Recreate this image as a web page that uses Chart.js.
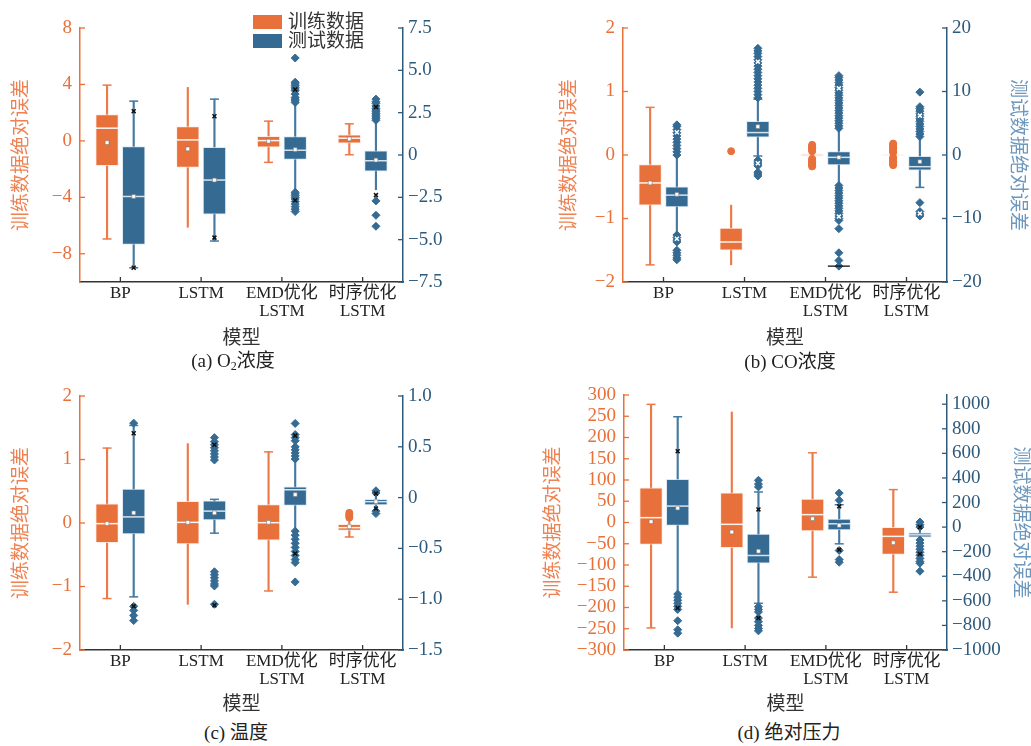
<!DOCTYPE html>
<html>
<head>
<meta charset="utf-8">
<script src="https://cdn.jsdelivr.net/npm/chart.js@4"></script>
<style>
  html, body { margin: 0; padding: 0; background: #fff; }
  body { width: 1031px; height: 746px; position: relative; overflow: hidden;
         font-family: 'Liberation Serif', 'Noto Sans CJK SC', serif; }
  canvas { position: absolute; }
  .cap { position: absolute; font-size: 19px; color: #222; white-space: nowrap;
         transform: translate(-50%, -50%); line-height: 1.2; }
  .cap sub { font-size: 12px; vertical-align: -3px; }
  .sw { position: absolute; width: 29px; height: 14px; }
  .lt { position: absolute; font-size: 19px; color: #333; line-height: 22px; white-space: nowrap; }
</style>
</head>
<body>
<canvas id="ca" style="left:0px;top:0px" width="470" height="350"></canvas>
<canvas id="cb" style="left:520px;top:0px" width="511" height="350"></canvas>
<canvas id="cc" style="left:0px;top:370px" width="470" height="346"></canvas>
<canvas id="cd" style="left:520px;top:370px" width="511" height="346"></canvas>

<div class="sw" style="left:253px;top:15px;background:#E8703A"></div>
<div class="lt" style="left:288px;top:11px">训练数据</div>
<div class="sw" style="left:253px;top:34px;background:#356A92"></div>
<div class="lt" style="left:288px;top:30px">测试数据</div>

<div class="cap" style="left:233px;top:362px">(a) O<sub>2</sub>浓度</div>
<div class="cap" style="left:790px;top:362px">(b) CO浓度</div>
<div class="cap" style="left:236px;top:733px">(c) 温度</div>
<div class="cap" style="left:789px;top:733px">(d) 绝对压力</div>

<script>
// ---------------- data ----------------
const categories = ['BP', 'LSTM', ['EMD优化', 'LSTM'], ['时序优化', 'LSTM']];
const xTitle = '模型';
const trainTitle = '训练数据绝对误差';
const testTitle = '测试数据绝对误差';

// each row: [whisker low, Q1, median, Q3, whisker high, mean]
// (a) O2
const o2Train = [
  [-6.95, -1.76, 0.90, 1.86, 3.95, -0.12],
  [-6.12, -1.88, 0.07, 1.02, 3.79, -0.57],
  [-1.52, -0.45, 0.02, 0.33, 1.40, -0.02],
  [-0.98, -0.17, 0.19, 0.43, 1.21, 0.14]
];
const o2TrainCaps = [[1, 1], [0, 0], [1, 1], [1, 1]];
const o2Test = [
  [-6.66, -5.28, -2.45, 0.49, 3.18, -2.45],
  [-5.08, -3.50, -1.48, 0.45, 3.30, -1.48],
  [-2.11, -0.26, 0.28, 1.09, 3.05, 0.32],
  [-2.05, -0.95, -0.34, 0.24, 1.98, -0.30]
];
const o2TestCaps = [[1, 1], [1, 1], [0, 0], [0, 0]];
const o2TestOutliers = [
  [],
  [],
  [4.3, 4.2, 4.1, 4.0, 3.9, 3.8, 3.6, 3.4, 3.3, 3.2, 3.1, 5.73, -2.2, -2.3, -2.4, -2.5, -2.6, -2.75, -2.9, -3.05, -3.2, -3.34],
  [2.05, 2.15, 2.25, 2.35, 2.45, 2.55, 2.65, 2.75, 2.9, 3.05, 3.15, 3.3, -2.71, -3.56, -4.21]
];
const o2TestMarks = [[2.59, -6.66], [2.29, -4.88], [3.87, -2.67], [2.83, -2.37]];
const o2LeftTicks = { min: -10, max: 8, step: 4 };
const o2RightTicks = { min: -7.5, max: 7.5, step: 2.5 };

// (b) CO
const coTrain = [
  [-1.73, -0.79, -0.44, -0.15, 0.75, -0.44],
  [-1.73, -1.50, -1.37, -1.15, -0.79, null],
  [-0.04, -0.02, 0.00, 0.02, 0.04, null],
  [-0.01, -0.005, 0.00, 0.005, 0.01, null]
];
const coTrainCaps = [[1, 1], [0, 0], [0, 0], [0, 0]];
const coTrainOutliers = [
  [],
  [0.06],
  [0.06, 0.08, 0.10, 0.12, 0.14, 0.16, -0.06, -0.08, -0.10, -0.12, -0.14, -0.16, -0.18],
  [0.04, 0.06, 0.08, 0.10, 0.12, 0.14, 0.16, 0.18, -0.04, -0.06, -0.08, -0.10, -0.12, -0.14, -0.16]
];
const coTest = [
  [-12.4, -8.16, -6.32, -5.0, -0.3, -6.2],
  [-0.16, 2.79, 3.53, 5.32, 8.79, 4.47],
  [-4.47, -1.58, -0.37, 0.53, 3.95, -0.37],
  [-5.1, -2.37, -1.84, -0.2, 2.63, -1.05]
];
const coTestCaps = [[0, 0], [1, 1], [0, 0], [1, 0]];
const coTestOutliers = [
  [0.0, 0.5, 1.0, 1.5, 2.0, 2.5, 3.0, 3.5, 4.0, 4.5, 4.75, -12.6, -13.0, -13.4, -13.7, -15.0, -15.4, -15.8, -16.2, -16.5],
  [9.0, 9.5, 10, 10.5, 11, 11.5, 12, 12.5, 13, 13.5, 14, 14.5, 15, 15.5, 16, 16.4, 16.8, -0.8, -1.1, -1.4, -1.7, -2.7, -3.0, -3.3],
  [4.2, 4.6, 5.0, 5.4, 5.8, 6.2, 6.6, 7.0, 7.4, 7.8, 8.2, 8.6, 9.0, 9.4, 9.8, 10.2, 10.6, 11.0, 11.4, 11.8, 12.2, 12.5,
   -4.8, -5.2, -5.6, -6.0, -6.4, -6.8, -7.2, -7.6, -8.0, -8.4, -8.8, -9.2, -9.6, -10.0, -10.3, -11.6, -15.4, -16.6, -17.5],
  [2.9, 3.3, 3.7, 4.1, 4.5, 4.9, 5.3, 5.7, 6.1, 6.5, 6.9, 7.3, 7.6, 9.9, -7.5, -8.9, -9.3, -9.6]
];
const coTestMarks = [[3.58, -13.2], [14.7, -1.3], [10.5, -9.7], [6.2, -9.2]];
const coTestFloor = [null, null, -17.5, null];
const coLeftTicks = { min: -2, max: 2, step: 1 };
const coRightTicks = { min: -20, max: 20, step: 10 };

// (c) temperature
const tempTrain = [
  [-1.19, -0.31, -0.01, 0.30, 1.18, -0.01],
  [-1.28, -0.33, 0.01, 0.34, 1.25, 0.01],
  [-1.07, -0.27, 0.005, 0.29, 1.12, 0.01],
  [-0.22, -0.115, -0.073, -0.02, 0.058, -0.058]
];
const tempTrainCaps = [[1, 1], [0, 0], [1, 1], [1, 0]];
const tempTrainOutliers = [[], [], [], [0.084, 0.11, 0.13, 0.16]];
const tempTest = [
  [-0.977, -0.357, -0.19, 0.083, 0.71, -0.15],
  [-0.35, -0.22, -0.133, -0.033, -0.017, -0.15],
  [-0.30, -0.077, 0.077, 0.107, 0.367, 0.03],
  [-0.117, -0.073, -0.04, -0.017, 0.033, -0.04]
];
const tempTestCaps = [[1, 1], [1, 1], [0, 0], [0, 0]];
const tempTestOutliers = [
  [0.733, -1.07, -1.11, -1.16, -1.21],
  [0.37, 0.40, 0.43, 0.46, 0.49, 0.52, 0.55, 0.59, -0.73, -0.76, -0.79, -0.82, -0.85, -0.87, -1.05],
  [0.73, 0.62, 0.59, 0.56, 0.50, 0.47, 0.44, 0.41, 0.38, -0.33, -0.37, -0.41, -0.45, -0.49, -0.53, -0.57, -0.61, -0.64, -0.83],
  [0.045, 0.067, -0.133, -0.157]
];
const tempTestMarks = [[0.633, -1.07], [0.52, -1.06], [0.61, -0.55], [0.04, -0.107]];
const tempLeftTicks = { min: -2, max: 2, step: 1 };
const tempRightTicks = { min: -1.5, max: 1.0, step: 0.5 };

// (d) absolute pressure
const pressTrain = [
  [-248, -51.5, 11.4, 81.4, 278, 2],
  [-248, -59.4, -4.3, 69.6, 260, -22.4],
  [-128.6, -20, 18.5, 55.4, 164, 9],
  [-164, -75, -32.6, -11.4, 77.4, -47.6]
];
const pressTrainCaps = [[1, 1], [0, 0], [1, 1], [1, 1]];
const pressTest = [
  [-531, 13.6, 171, 389, 898, 155],
  [-620, -294, -231, -57, 286, -196],
  [-136, -22, 27, 65, 182, 14],
  [-100, -82, -63, -46, -30, null]
];
const pressTestCaps = [[0, 1], [1, 1], [1, 1], [0, 0]];
const pressTestOutliers = [
  [-545, -570, -595, -620, -645, -670, -762, -835, -863],
  [327, 350, 381, -648, -670, -690, -740, -770, -800, -825, -844],
  [218, 277, -190, -264, -286],
  [0, 20, 41, -105, -130, -155, -180, -205, -230, -255, -280, -294, -359]
];
const pressTestMarks = [[618, -658], [144, -740], [169, -185], [0, -218]];
const pressLeftTicks = { min: -300, max: 300, step: 50 };
const pressRightTicks = { min: -1000, max: 1075, step: 200 };

// ---------------- styling ----------------
const FONT = "'Liberation Serif', 'Noto Sans CJK SC', serif";
const ORANGE = '#E8703A';
const BLUE = '#356A92';
const AXIS_BLUE = '#2E5A7C';
const SLOT = 0.165;      // half distance between the paired boxes, in category units
const BOX_W = 22.7;      // box width, px
const WHISK_W = 1.5;     // whisker width, px

const trainStyle = {
  box: ORANGE, edge: 'rgba(255,232,220,0.75)', whisker: '#EC7A48',
  median: 'rgba(255,255,255,0.92)', out: ORANGE, outStyle: 'circle', outR: 3.5
};
const testStyle = {
  box: BLUE, edge: 'rgba(210,226,240,0.75)', whisker: '#4679A2',
  median: 'rgba(222,234,244,0.95)', out: BLUE, outStyle: 'rectRot', outR: 4
};

const minus = s => s.replace('-', '\u2212');
const fmtInt = v => minus(String(v));
const fmt1 = v => (v === 0 ? '0' : minus(v.toFixed(1)));

function series(stats, caps, outliers, marks, side, axis, sty, markColor) {
  const at = i => i + side * SLOT;
  const capPts = [];
  stats.forEach((s, i) => {
    if (caps[i][0]) capPts.push({ x: at(i), y: s[0] });
    if (caps[i][1]) capPts.push({ x: at(i), y: s[4] });
  });
  const outPts = [];
  (outliers || []).forEach((vals, i) => vals.forEach(v => outPts.push({ x: at(i), y: v })));
  const markPts = [];
  (marks || []).forEach((vals, i) => vals.forEach(v => markPts.push({ x: at(i), y: v })));
  const meanPts = stats.map((s, i) => (s[5] === null ? null : { x: at(i), y: s[5] })).filter(Boolean);
  const medPts = stats.map((s, i) => ({ x: at(i), y: s[2] }));
  const common = { xAxisID: 'xp', yAxisID: axis };
  return [
    { ...common, type: 'bar', grouped: false, barThickness: WHISK_W,
      data: stats.map((s, i) => ({ x: at(i), y: [s[0], s[4]] })),
      backgroundColor: sty.whisker, borderWidth: 0, order: 6 },
    { ...common, type: 'bar', grouped: false, barThickness: BOX_W,
      data: stats.map((s, i) => ({ x: at(i), y: [s[1], s[3]] })),
      backgroundColor: sty.box, borderColor: sty.edge, borderWidth: 1, borderSkipped: false, order: 4 },
    { ...common, type: 'scatter', data: capPts,
      pointStyle: 'line', pointRadius: 4.5, pointBorderColor: sty.whisker, pointBorderWidth: 1.5, order: 5 },
    { ...common, type: 'scatter', data: medPts,
      pointStyle: 'line', pointRadius: BOX_W / 2, pointBorderColor: sty.median, pointBorderWidth: 1.5, order: 3 },
    { ...common, type: 'scatter', data: outPts,
      pointStyle: sty.outStyle, pointRadius: sty.outR, pointBackgroundColor: sty.out, pointBorderColor: sty.out,
      pointBorderWidth: 1, order: 2 },
    { ...common, type: 'scatter', data: meanPts,
      pointStyle: 'rect', pointRadius: 2.7, pointBackgroundColor: '#ffffff', pointBorderColor: '#7a7a7a',
      pointBorderWidth: 0.6, order: 1 },
    { ...common, type: 'scatter', data: markPts,
      pointStyle: 'crossRot', pointRadius: 2.8, pointBorderColor: markColor, pointBorderWidth: 1.5, order: 0 }
  ];
}

const inTicks = {
  id: 'inTicks',
  afterDraw(chart) {
    const ctx = chart.ctx;
    ['x', 'y', 'y1'].forEach(id => {
      const s = chart.scales[id];
      if (!s) return;
      ctx.save();
      ctx.strokeStyle = s.options.border.color;
      ctx.lineWidth = 1.3;
      s.ticks.forEach((t, i) => {
        const p = s.getPixelForTick(i);
        ctx.beginPath();
        if (id === 'x') { ctx.moveTo(p, s.top); ctx.lineTo(p, s.top - 5); }
        else if (s.position === 'left') { ctx.moveTo(s.right, p); ctx.lineTo(s.right + 5, p); }
        else { ctx.moveTo(s.left, p); ctx.lineTo(s.left - 5, p); }
        ctx.stroke();
      });
      ctx.restore();
    });
  }
};

function makePanel(p) {
  const datasets = [
    ...series(p.train, p.trainCaps, p.trainOut, null, -1, 'y', trainStyle, '#fff'),
    ...series(p.test, p.testCaps, p.testOut, p.testMarks, 1, 'y1', testStyle, p.markColor)
  ];
  if (p.floor) {
    datasets.push({ type: 'scatter', xAxisID: 'xp', yAxisID: 'y1',
      data: p.floor.map((v, i) => (v === null ? null : { x: i + SLOT, y: v })).filter(Boolean),
      pointStyle: 'line', pointRadius: 11, pointBorderColor: '#111', pointBorderWidth: 1.3, order: 0 });
  }
  new Chart(document.getElementById(p.id), {
    type: 'bar',
    data: { labels: categories, datasets },
    plugins: [inTicks],
    options: {
      responsive: false,
      animation: false,
      events: [],
      layout: { padding: { top: p.top, left: 0, right: 0, bottom: 0 } },
      plugins: { legend: { display: false }, tooltip: { enabled: false } },
      scales: {
        x: {
          type: 'category', offset: true,
          grid: { display: false, drawTicks: false },
          border: { display: true, color: '#333', width: 1.5 },
          ticks: { color: '#222', font: { family: FONT, size: 17, lineHeight: 1.05 }, padding: 3,
                   maxRotation: 0, autoSkip: false },
          title: { display: true, text: xTitle, color: '#333', font: { family: FONT, size: 19 },
                   padding: { top: 0, bottom: 0 } },
          afterFit: s => { s.height = p.xH; }
        },
        xp: { type: 'linear', display: false, offset: false, min: -0.5, max: categories.length - 0.5 },
        y: {
          position: 'left', stacked: false,
          min: p.left.min, max: p.left.max,
          grid: { display: false, drawTicks: false },
          border: { display: true, color: ORANGE, width: 1.5 },
          ticks: { stepSize: p.left.step, includeBounds: false, autoSkip: false, color: ORANGE,
                   font: { family: FONT, size: 19, lineHeight: 1.0 }, padding: 8, callback: p.leftFmt },
          title: { display: true, text: trainTitle, color: '#EE8253',
                   font: { family: FONT, size: 19 }, padding: { top: p.yTitlePad, bottom: 0 } },
          afterFit: s => { s.width = p.yW; }
        },
        y1: {
          position: 'right', stacked: false,
          min: p.right.min, max: p.right.max,
          grid: { display: false, drawTicks: false },
          border: { display: true, color: AXIS_BLUE, width: 1.5 },
          ticks: { stepSize: p.right.step, includeBounds: false, autoSkip: false, color: AXIS_BLUE,
                   font: { family: FONT, size: 19, lineHeight: 1.0 }, padding: 5, callback: p.rightFmt },
          title: { display: p.y1Title, text: testTitle, color: '#6D98BE',
                   font: { family: FONT, size: 19 }, padding: { top: p.y1TitlePad || 0, bottom: 0 } },
          afterFit: s => { s.width = p.y1W; }
        }
      }
    }
  });
}

makePanel({ id: 'ca', train: o2Train, trainCaps: o2TrainCaps, trainOut: null,
  test: o2Test, testCaps: o2TestCaps, testOut: o2TestOutliers, testMarks: o2TestMarks, markColor: '#111',
  left: o2LeftTicks, right: o2RightTicks, leftFmt: fmtInt, rightFmt: fmt1,
  yW: 80, y1W: 67, top: 28, xH: 68, yTitlePad: 10.6, y1Title: false });

makePanel({ id: 'cb', train: coTrain, trainCaps: coTrainCaps, trainOut: coTrainOutliers,
  test: coTest, testCaps: coTestCaps, testOut: coTestOutliers, testMarks: coTestMarks, markColor: '#fff',
  floor: coTestFloor,
  left: coLeftTicks, right: coRightTicks, leftFmt: fmtInt, rightFmt: fmtInt,
  yW: 103, y1W: 84, top: 28, xH: 68, yTitlePad: 38.6, y1Title: true, y1TitlePad: 2.6 });

makePanel({ id: 'cc', train: tempTrain, trainCaps: tempTrainCaps, trainOut: tempTrainOutliers,
  test: tempTest, testCaps: tempTestCaps, testOut: tempTestOutliers, testMarks: tempTestMarks, markColor: '#111',
  left: tempLeftTicks, right: tempRightTicks, leftFmt: fmtInt, rightFmt: fmt1,
  yW: 80, y1W: 67, top: 26, xH: 66, yTitlePad: 10.6, y1Title: false });

makePanel({ id: 'cd', train: pressTrain, trainCaps: pressTrainCaps, trainOut: null,
  test: pressTest, testCaps: pressTestCaps, testOut: pressTestOutliers, testMarks: pressTestMarks, markColor: '#111',
  left: pressLeftTicks, right: pressRightTicks, leftFmt: fmtInt, rightFmt: fmtInt,
  yW: 104, y1W: 84, top: 25, xH: 66, yTitlePad: 22.6, y1Title: true, y1TitlePad: 0 });
</script>
</body>
</html>
